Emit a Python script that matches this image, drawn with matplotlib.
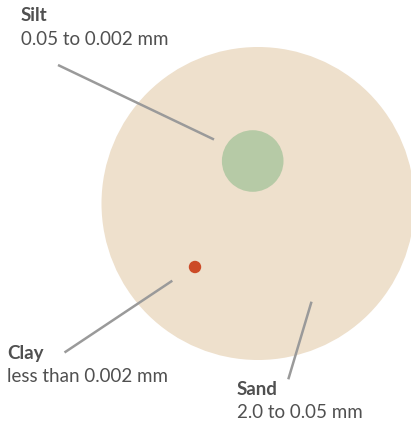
import matplotlib
matplotlib.use("Agg")
import matplotlib.pyplot as plt
from matplotlib.patches import Circle

W, H = 411, 425
categories = ["Sand", "Silt", "Clay"]
ranges = ["2.0 to 0.05 mm", "0.05 to 0.002 mm", "less than 0.002 mm"]
colors = ["#EEE0CC", "#B6CAA6", "#CC4B27"]
centers = [(258, 203.5), (252.7, 161), (195, 267)]
radii = [156.5, 30.8, 6.2]
label_pos = [(237, 395), (21, 21), (7, 359)]
leaders = [((288.3, 379.3), (311.5, 301.7)),
           ((58, 65), (214, 139.5)),
           ((64.5, 352.5), (172.3, 280.7))]

fig = plt.figure(figsize=(W / 100, H / 100), dpi=100)
ax = fig.add_axes([0, 0, 1, 1])
ax.set_xlim(0, W)
ax.set_ylim(H, 0)
ax.set_aspect("equal")
ax.axis("off")

for c, r, col in zip(centers, radii, colors):
    ax.add_patch(Circle(c, r, facecolor=col, edgecolor="none", zorder=1))

for (p0, p1) in leaders:
    ax.plot([p0[0], p1[0]], [p0[1], p1[1]], color="#9A9A9A", lw=1.8,
            solid_capstyle="butt", zorder=3)

for name, rng, (x, y) in zip(categories, ranges, label_pos):
    ax.text(x, y, name, fontsize=13.5, fontweight="bold", color="#505050",
            family="Lato", va="baseline", ha="left")
    ax.text(x, y + 23.5, rng, fontsize=13.5, color="#505050",
            family="Lato", va="baseline", ha="left")

fig.savefig("out.png", dpi=100)
